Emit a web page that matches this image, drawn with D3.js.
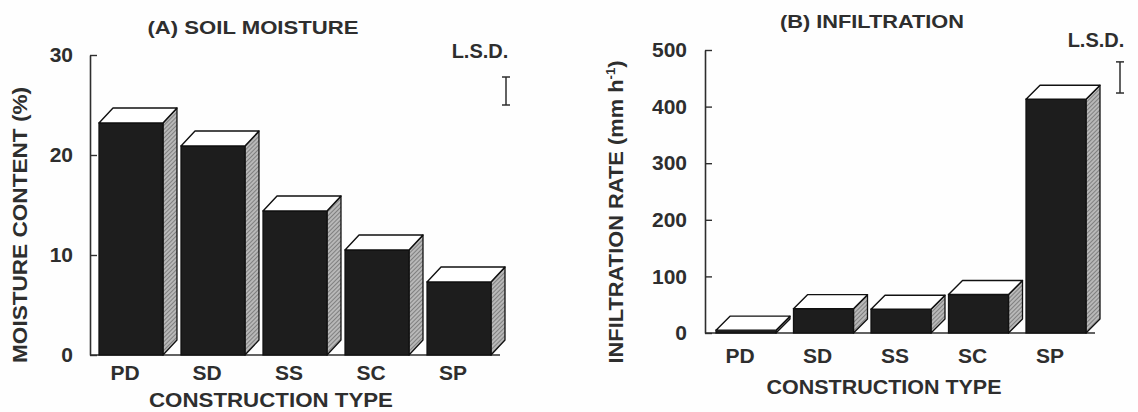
<!DOCTYPE html>
<html><head><meta charset="utf-8">
<script src="https://cdn.jsdelivr.net/npm/d3@7"></script>
<style>
html,body{margin:0;padding:0;background:#fff;}
svg text{font-family:"Liberation Sans",Arial,Helvetica,sans-serif;font-weight:bold;fill:#2e2e2e;}
</style></head>
<body>
<svg id="chart" width="1138" height="412"></svg>
<script>
// ---- data ----
const categories = ["PD", "SD", "SS", "SC", "SP"];
const moistureValues = [23.2, 20.9, 14.4, 10.5, 7.3];        // %
const infiltrationValues = [5, 43, 42, 68, 413];             // mm h-1
const moistureTicks = [0, 10, 20, 30];
const infiltrationTicks = [0, 100, 200, 300, 400, 500];
const moistureLSD = [25.0, 27.8];      // error-bar extent (LSD)
const infiltrationLSD = [424, 479];

const svg = d3.select("#chart");
svg.append("rect").attr("width",1138).attr("height",412).attr("fill","#fefefe");

const defs = svg.append("defs");
const hatch = defs.append("pattern").attr("id","hatch").attr("patternUnits","userSpaceOnUse")
  .attr("width",3).attr("height",3).attr("patternTransform","rotate(45)");
hatch.append("rect").attr("width",3).attr("height",3).attr("fill","#b8b8b8");
hatch.append("line").attr("x1",0).attr("y1",0).attr("x2",0).attr("y2",3)
  .attr("stroke","#5a5a5a").attr("stroke-width",1.2);

const ink = "#2e2e2e";

function panel(cfg){
  const g = svg.append("g");
  const x = d3.scaleBand().domain(categories).range(cfg.xRange).paddingInner(cfg.pad).paddingOuter(0);
  const y = d3.scaleLinear().domain(cfg.yDomain).range(cfg.yRange);
  const base = y(0);

  // y axis
  const ya = g.append("g").attr("transform",`translate(${cfg.axisX},0)`)
    .call(d3.axisLeft(y).tickValues(cfg.ticks).tickFormat(d3.format("d"))
      .tickSizeInner(-7).tickSizeOuter(0).tickPadding(cfg.tickPad));
  ya.select(".domain").attr("stroke",ink).attr("stroke-width",1.6);
  ya.selectAll(".tick line").attr("stroke",ink).attr("stroke-width",1.4);
  ya.selectAll(".tick text").attr("font-size",21).attr("fill",ink).attr("font-family",null);

  // x axis line
  g.append("line").attr("x1",cfg.axisX).attr("x2",cfg.xEnd).attr("y1",base).attr("y2",base)
    .attr("stroke",ink).attr("stroke-width",1.6);

  // bars (3D)
  const dx = cfg.dx, dy = cfg.dy;
  cfg.values.forEach((v,i)=>{
    const x0 = x(categories[i]), w = x.bandwidth(), yt = y(v);
    const bg = g.append("g");
    bg.append("polygon")
      .attr("points",[[x0+w,yt],[x0+w+dx,yt-dy],[x0+w+dx,base-dy],[x0+w,base]].map(p=>p.join(",")).join(" "))
      .attr("fill","url(#hatch)").attr("stroke","#111").attr("stroke-width",1.3).attr("stroke-linejoin","round");
    bg.append("rect").attr("x",x0).attr("y",yt).attr("width",w).attr("height",base-yt)
      .attr("fill","#1d1d1d").attr("stroke","#111").attr("stroke-width",1.3);
    bg.append("polygon")
      .attr("points",[[x0,yt],[x0+dx,yt-dy],[x0+w+dx,yt-dy],[x0+w,yt]].map(p=>p.join(",")).join(" "))
      .attr("fill","#ffffff").attr("stroke","#111").attr("stroke-width",1.4).attr("stroke-linejoin","round");
  });

  // x tick labels
  const xa = g.append("g").attr("transform",`translate(${cfg.labelShift},${base})`)
    .call(d3.axisBottom(x).tickSize(0).tickPadding(cfg.xLabPad));
  xa.select(".domain").remove();
  xa.selectAll(".tick text").attr("font-size",21).attr("fill",ink).attr("font-family",null);

  // titles
  g.append("text").attr("x",cfg.title[1]).attr("y",cfg.title[2]).attr("text-anchor","middle")
    .attr("font-size",19).attr("textLength",cfg.title[3]).attr("lengthAdjust","spacingAndGlyphs")
    .text(cfg.title[0]);
  g.append("text").attr("x",cfg.xTitle[0]).attr("y",cfg.xTitle[1]).attr("text-anchor","middle")
    .attr("font-size",20).attr("textLength",cfg.xTitle[2]).attr("lengthAdjust","spacingAndGlyphs")
    .text("CONSTRUCTION TYPE");

  // LSD
  g.append("text").attr("x",cfg.lsdText[0]).attr("y",cfg.lsdText[1]).attr("text-anchor","middle")
    .attr("font-size",20).text("L.S.D.");
  const lx = cfg.lsdX, l0 = y(cfg.lsd[0]), l1 = y(cfg.lsd[1]);
  g.append("line").attr("x1",lx).attr("x2",lx).attr("y1",l0).attr("y2",l1).attr("stroke",ink).attr("stroke-width",1.5);
  [l0,l1].forEach(yy=>g.append("line").attr("x1",lx-4).attr("x2",lx+4).attr("y1",yy).attr("y2",yy)
    .attr("stroke",ink).attr("stroke-width",1.5));
  return {g,x,y};
}

panel({
  values: moistureValues, xRange:[99,491], pad:0.22, yDomain:[0,30], yRange:[355,55],
  ticks: moistureTicks, axisX:90, xEnd:500, tickPad:17, dx:14, dy:15,
  labelShift:-6, xLabPad:10,
  title:["(A) SOIL MOISTURE",253,34,211], xTitle:[271,407,244],
  lsd: moistureLSD, lsdX:506, lsdText:[480,58]
});
svg.append("text").attr("transform","translate(27,225) rotate(-90)").attr("text-anchor","middle")
  .attr("font-size",20).attr("textLength",276).attr("lengthAdjust","spacingAndGlyphs")
  .text("MOISTURE CONTENT (%)");

panel({
  values: infiltrationValues, xRange:[716,1086], pad:0.226, yDomain:[0,500], yRange:[333,50],
  ticks: infiltrationTicks, axisX:705, xEnd:1095, tickPad:18, dx:14, dy:14,
  labelShift:-6, xLabPad:15,
  title:["(B) INFILTRATION",872,28,184], xTitle:[884,394,235],
  lsd: infiltrationLSD, lsdX:1120, lsdText:[1096,47]
});
const yl = svg.append("text").attr("transform","translate(623,212) rotate(-90)").attr("text-anchor","middle")
  .attr("font-size",20).attr("textLength",303).attr("lengthAdjust","spacingAndGlyphs");
yl.append("tspan").text("INFILTRATION RATE (mm h");
yl.append("tspan").attr("font-size",12).attr("dy",-8).text("-1");
yl.append("tspan").attr("dy",8).text(")");
</script>
</body></html>
